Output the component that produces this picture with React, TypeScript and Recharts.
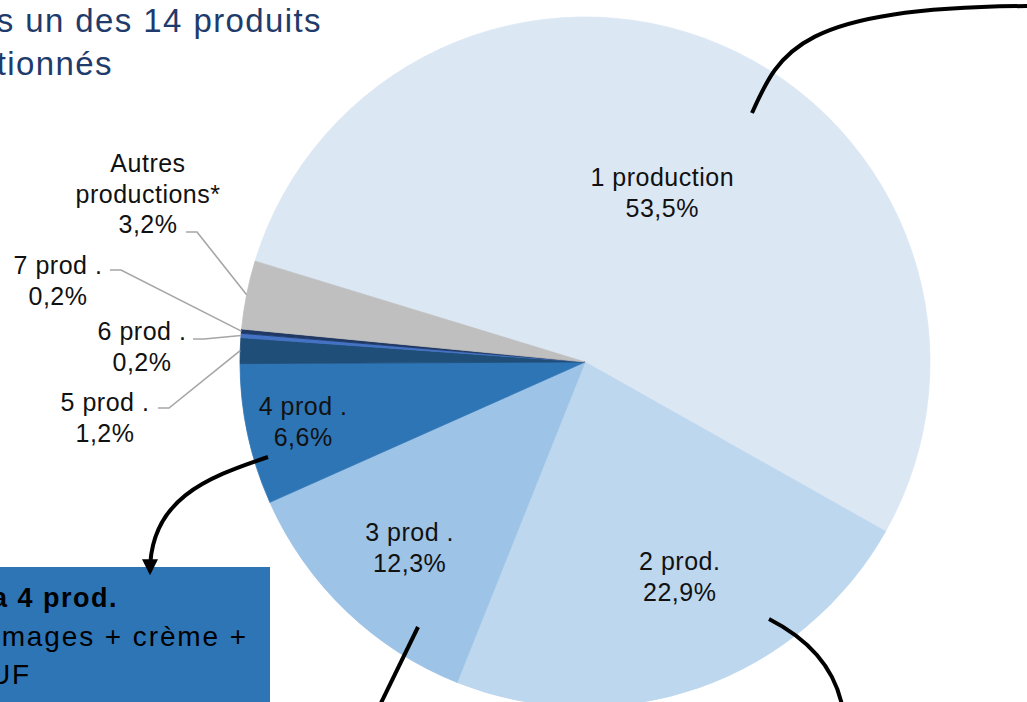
import { PieChart, Pie, Cell } from 'recharts';

const categories = [
  '1 production',
  '2 prod.',
  '3 prod .',
  '4 prod .',
  '5 prod .',
  '6 prod .',
  '7 prod .',
  'Autres\nproductions*',
];
const shares = [53.5, 22.9, 12.3, 6.6, 1.2, 0.2, 0.2, 3.2];
const colors = ['#DCE7F4', '#BDD7EE', '#9DC3E6', '#2E75B6', '#1F4E79', '#4472C4', '#203864', '#BFBFBF'];

const data = categories.map((name, i) => ({ name, value: shares[i] }));

const FONT = '"Liberation Sans", Arial, sans-serif';
const RADIAN = Math.PI / 180;
const LINE_H = 30.5;

// label placement: inside labels by radius fraction (+ small angle shift), outside ones with a leader line
const labelLayout: Record<string, any> = {
  '1 production': { inside: true, r: 0.54, da: -1.3 },
  '2 prod.': { inside: true, r: 0.68, da: 4.4 },
  '3 prod .': { inside: true, r: 0.74, da: 0.5 },
  '4 prod .': { inside: true, r: 0.835, da: -0.2 },
  '5 prod .': { x: 105, y: 402, lx: 158, ly: 408 },
  '6 prod .': { x: 142, y: 331, lx: 193, ly: 339 },
  '7 prod .': { x: 58, y: 265, lx: 110, ly: 270 },
  'Autres\nproductions*': { x: 148, y: 163, lx: 186, ly: 232 },
};

const fmt = (v: number) => v.toFixed(1).replace('.', ',') + '%';

function renderLabel(props: any) {
  const { cx, cy, midAngle, outerRadius, index } = props;
  const name = categories[index];
  const layout = labelLayout[name];
  const lines = [...name.split('\n'), fmt(shares[index])];
  const textStyle = { fontFamily: FONT, fontSize: 25, letterSpacing: 0.5, fill: '#111' };

  if (layout.inside) {
    const a = (midAngle + layout.da) * RADIAN;
    const r = outerRadius * layout.r;
    const x = cx + r * Math.cos(a);
    const y = cy - r * Math.sin(a);
    return (
      <g>
        {lines.map((t, i) => (
          <text key={i} x={x} y={y + (i - (lines.length - 1) / 2) * LINE_H} textAnchor="middle" dominantBaseline="central" style={textStyle}>
            {t}
          </text>
        ))}
      </g>
    );
  }

  const a = midAngle * RADIAN;
  const ex = cx + outerRadius * Math.cos(a);
  const ey = cy - outerRadius * Math.sin(a);
  return (
    <g>
      <polyline
        points={`${layout.lx},${layout.ly} ${layout.lx + 11},${layout.ly} ${ex},${ey}`}
        fill="none"
        stroke="#A6A6A6"
        strokeWidth={1.6}
      />
      {lines.map((t, i) => (
        <text key={i} x={layout.x} y={layout.y + i * LINE_H} textAnchor="middle" dominantBaseline="central" style={textStyle}>
          {t}
        </text>
      ))}
    </g>
  );
}

export default function App() {
  return (
    <div style={{ position: 'absolute', left: 0, top: 0, width: 1027, height: 702, overflow: 'hidden', background: '#fff' }}>
      <PieChart width={1027} height={702} margin={{ top: 0, right: 0, bottom: 0, left: 0 }}>
        <Pie
          data={data}
          dataKey="value"
          nameKey="name"
          cx={585}
          cy={362}
          outerRadius={345}
          startAngle={163}
          endAngle={-197}
          label={renderLabel}
          labelLine={false}
          isAnimationActive={false}
        >
          {data.map((d, i) => (
            <Cell key={d.name} fill={colors[i]} stroke={colors[i]} strokeWidth={0.8} />
          ))}
        </Pie>
      </PieChart>

      {/* title (cut off on the left) and annotations */}
      <svg width={1027} height={702} style={{ position: 'absolute', left: 0, top: 0, pointerEvents: 'none' }}>
        <defs>
          <marker id="arrow" viewBox="0 0 10 10" refX="8" refY="5" markerWidth="4" markerHeight="4" orient="auto">
            <path d="M0,0 L10,5 L0,10 z" fill="#000" />
          </marker>
        </defs>
        <text x={322} y={20} textAnchor="end" dominantBaseline="central" style={{ fontFamily: FONT, fontSize: 33, letterSpacing: 1.4, fill: '#1F3B6B' }}>
          s un des 14 produits
        </text>
        <text x={113} y={63} textAnchor="end" dominantBaseline="central" style={{ fontFamily: FONT, fontSize: 33, letterSpacing: 1.4, fill: '#1F3B6B' }}>
          tionnés
        </text>

        <rect x={0} y={567} width={270} height={140} fill="#2E75B6" />
        <text x={118} y={598} textAnchor="end" dominantBaseline="central" style={{ fontFamily: FONT, fontSize: 27, letterSpacing: 1.5, fontWeight: 700, fill: '#000' }}>
          a 4 prod.
        </text>
        <text x={248} y={636} textAnchor="end" dominantBaseline="central" style={{ fontFamily: FONT, fontSize: 28, letterSpacing: 1.9, fill: '#000' }}>
          mages + crème +
        </text>
        <text x={31} y={674} textAnchor="end" dominantBaseline="central" style={{ fontFamily: FONT, fontSize: 28, letterSpacing: 1.9, fill: '#000' }}>
          UF
        </text>

        <path d="M752,113 C780,50 800,8 1027,6" fill="none" stroke="#000" strokeWidth={4} />
        <path d="M268,457 C205,478 150,500 150,572" fill="none" stroke="#000" strokeWidth={4} markerEnd="url(#arrow)" />
        <path d="M418,627 L380,705" fill="none" stroke="#000" strokeWidth={4} />
        <path d="M769,619 Q830,650 842,705" fill="none" stroke="#000" strokeWidth={4} />
      </svg>
    </div>
  );
}
